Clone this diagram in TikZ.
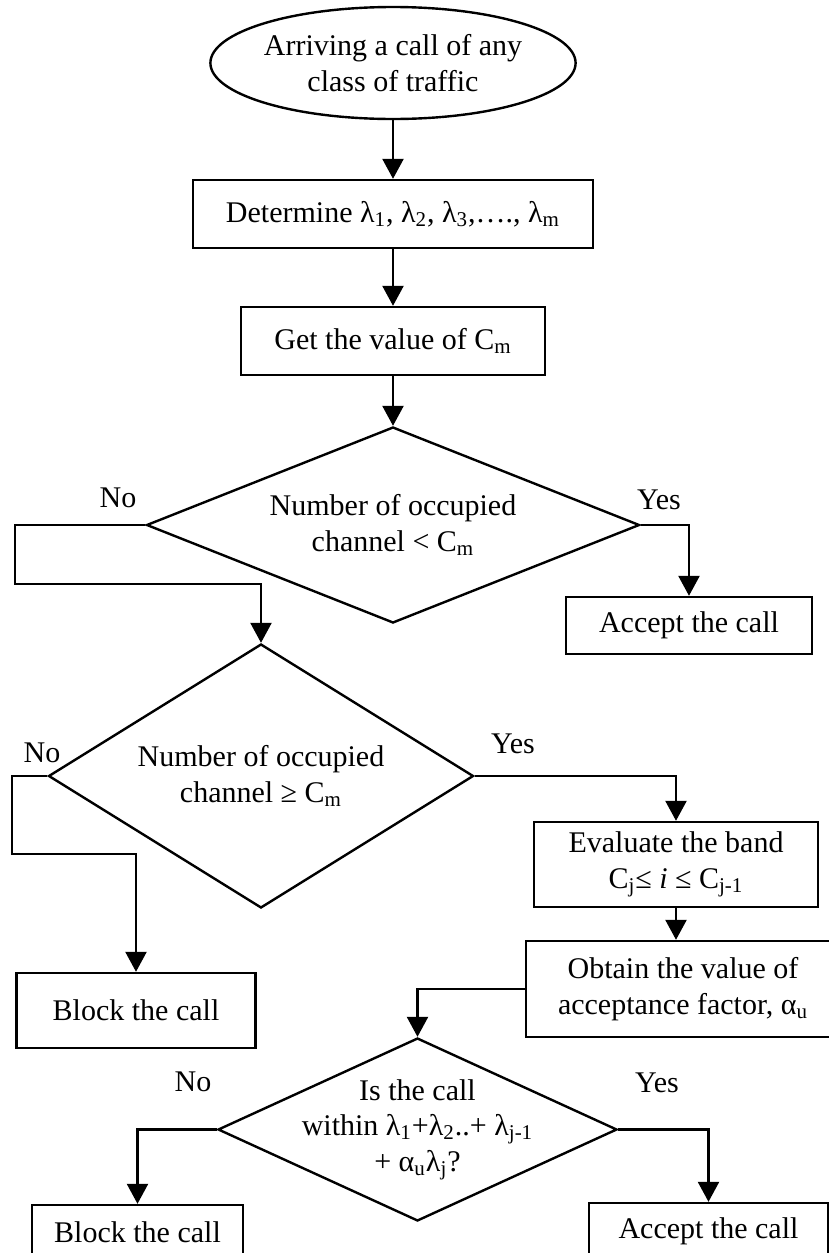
\documentclass[tikz,border=0pt]{standalone}
\usepackage{fontspec}
\setmainfont{Liberation Serif}
\usetikzlibrary{shapes.geometric,arrows.meta}
\newcommand{\sbs}[1]{\textsubscript{#1}}

\begin{document}
\begin{tikzpicture}[x=0.5pt,y=-0.5pt,
	every node/.style={font=\fontsize{15}{17.75}\selectfont,align=center,inner sep=0pt},
	box/.style={draw,rectangle,line width=1.2pt},
	dia/.style={draw,diamond,line width=1.2pt},
	>={Triangle[length=10pt,width=10.5pt]}]

\useasboundingbox (0,0) rectangle (829,1253);

\node[draw,ellipse,line width=1.2pt,minimum width=179.5pt,minimum height=56pt] (s) at (393,63) {Arriving a call of any\\class of traffic};
\node[box,minimum width=200pt,minimum height=34pt] (b1) at (393,214) {Determine λ\sbs{1}, λ\sbs{2}, λ\sbs{3},…., λ\sbs{m}};
\node[box,minimum width=152pt,minimum height=34pt] (b2) at (393,341) {Get the value of C\sbs{m}};
\node[dia,minimum width=246.5pt,minimum height=98pt] (d1) at (393,525) {};
\node (t1) at (d1) {Number of occupied\\channel < C\sbs{m}};
\node[box,minimum width=123pt,minimum height=28.5pt] (a1) at (689,625.5) {Accept the call};

\node[dia,minimum width=212.5pt,minimum height=132pt] (d2) at (261,776) {};
\node (t2) at (d2) {Number of occupied\\channel ≥ C\sbs{m}};
\node[box,minimum width=119.5pt,minimum height=37.5pt] (k1) at (136,1010.5) {Block the call};
\node[box,minimum width=142pt,minimum height=42.5pt] (b3) at (676,864.5) {Evaluate the band\\C\sbs{j}≤ \textit{i} ≤ C\sbs{j-1}};
\node[box,minimum width=157pt,minimum height=48pt] (b4) at (683,989) {Obtain the value of\\acceptance factor, α\sbs{u}};

\node[dia,minimum width=199.5pt,minimum height=91.5pt] (d3) at (417.5,1129.5) {};
\node (t3) at (d3) {Is the call\\within λ\sbs{1}+λ\sbs{2}..+ λ\sbs{j-1}\\+ α\sbs{u}λ\sbs{j}?};
\node[box,minimum width=105.5pt,minimum height=27pt] (k2) at (137.5,1232) {Block the call};
\node[box,minimum width=119.5pt,minimum height=28pt] (a2) at (708.5,1231) {Accept the call};

\node (no1) at (118,498) {No};
\node (yes1) at (659,500) {Yes};
\node (no2) at (42,753) {No};
\node (yes2) at (513,744) {Yes};
\node (no3) at (193,1082) {No};
\node (yes3) at (657,1083) {Yes};

\coordinate (c1) at (15,584);
\coordinate (c2) at (12,854);

\foreach \a/\b in {s/b1,b1/b2,b2/d1}
	\draw[->,line width=1.2pt] (\a) -- (\b);
\draw[->,line width=1.2pt] (d1.west) -| (c1) -| (d2.north);
\draw[->,line width=1.2pt] (d1.east) -| (a1.north);
\draw[->,line width=1.2pt] (d2.west) -| (c2) -| (k1.north);
\draw[->,line width=1.2pt] (d2.east) -| (b3.north);
\draw[->,line width=1.2pt] (b3.south) -- (b3.south |- b4.north);
\draw[->,line width=1.2pt] (b4.west) -| (d3.north);
\draw[->,line width=1.2pt] (d3.west) -| (k2.north);
\draw[->,line width=1.2pt] (d3.east) -| (a2.north);

\end{tikzpicture}
\end{document}
